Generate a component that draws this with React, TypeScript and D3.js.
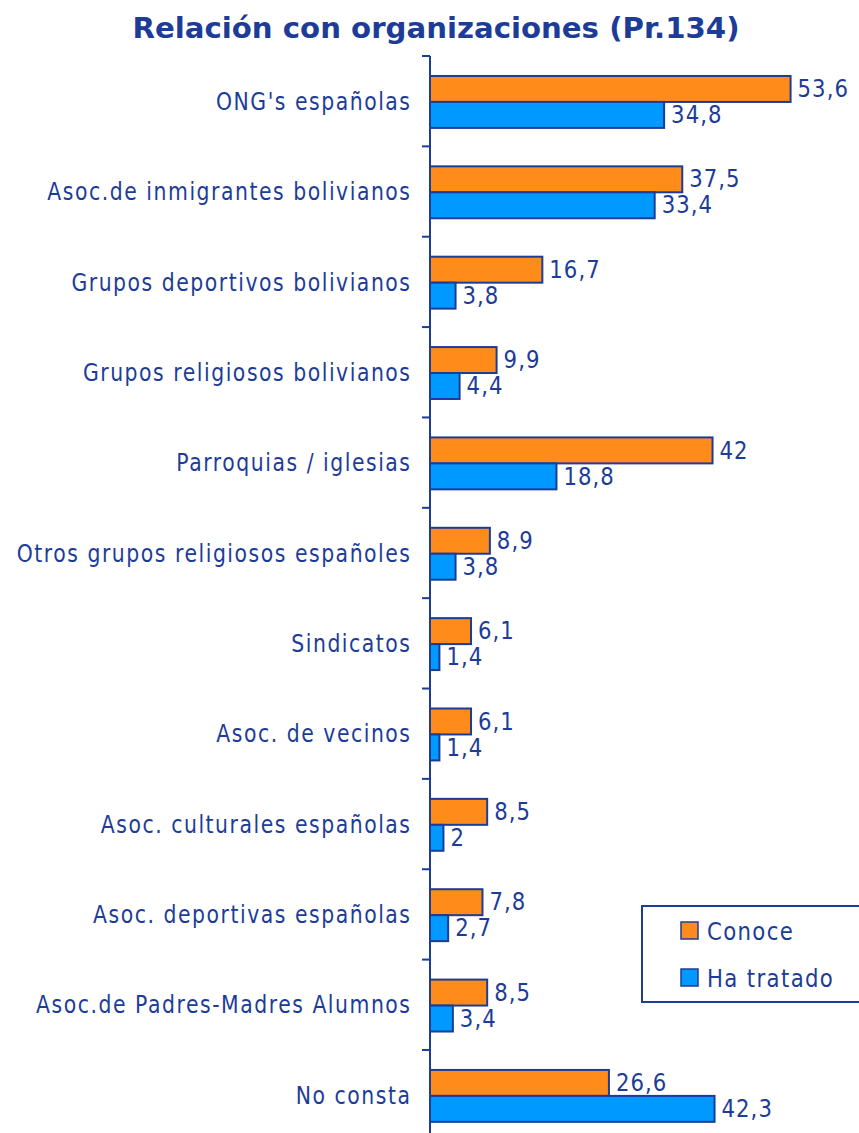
import React from "react";
import * as d3 from "d3";

const categories = [
  "ONG's españolas",
  "Asoc.de inmigrantes bolivianos",
  "Grupos deportivos bolivianos",
  "Grupos religiosos bolivianos",
  "Parroquias / iglesias",
  "Otros grupos religiosos españoles",
  "Sindicatos",
  "Asoc. de vecinos",
  "Asoc. culturales españolas",
  "Asoc. deportivas españolas",
  "Asoc.de Padres-Madres Alumnos",
  "No consta",
];
const conoce = [53.6, 37.5, 16.7, 9.9, 42, 8.9, 6.1, 6.1, 8.5, 7.8, 8.5, 26.6];
const haTratado = [34.8, 33.4, 3.8, 4.4, 18.8, 3.8, 1.4, 1.4, 2, 2.7, 3.4, 42.3];
const seriesNames = ["Conoce", "Ha tratado"];
const seriesColors = ["#FF8C1A", "#0099FF"];
const title = "Relación con organizaciones (Pr.134)";

const W = 859;
const H = 1133;
const TEXT = "#1C3C98";
const FONT = "'DejaVu Sans', Verdana, sans-serif";
const SX = 0.85;
const LS = 1.8;

export default function App() {
  const axisX = 430;
  const y = d3.scaleBand<string>().domain(categories).range([56, 56 + 12 * 90.36]).paddingInner(0).paddingOuter(0);
  const inner = d3.scaleBand<string>().domain(seriesNames).range([0, y.bandwidth()]).paddingInner(0).paddingOuter(0.74).align(0.52);
  const x = d3.scaleLinear().domain([0, 60]).range([axisX, axisX + 60 * 6.727]);
  const fmt = (v: number) => String(v).replace(".", ",");
  const series = [conoce, haTratado];
  const tickYs = categories.map((c) => y(c)!).concat([y(categories[categories.length - 1])! + y.bandwidth()]);

  return (
    <svg width={W} height={H} style={{ position: "absolute", left: 0, top: 0, background: "#fff" }} fontFamily={FONT}>
      <text x={436} y={38} textAnchor="middle" fill={TEXT} fontWeight="bold" fontSize={29} textLength={607} lengthAdjust="spacingAndGlyphs">
        {title}
      </text>
      {categories.map((c, i) => (
        <g key={c}>
          <text
            transform={`translate(${410 + LS * SX},${y(c)! + y.bandwidth() / 2}) scale(${SX},1)`}
            textAnchor="end"
            dominantBaseline="central"
            fill={TEXT}
            fontSize={24}
            letterSpacing={LS}
          >
            {c}
          </text>
          {series.map((s, k) => {
            const by = y(c)! + inner(seriesNames[k])!;
            const bh = inner.bandwidth();
            return (
              <g key={k}>
                <rect x={x(0)} y={by} width={x(s[i]) - x(0)} height={bh} fill={seriesColors[k]} stroke={TEXT} strokeWidth={2} />
                <text
                  transform={`translate(${x(s[i]) + 7},${by + bh / 2 - 1}) scale(${SX},1)`}
                  dominantBaseline="central"
                  fill={TEXT}
                  fontSize={25}
                  letterSpacing={1.2}
                >
                  {fmt(s[i])}
                </text>
              </g>
            );
          })}
        </g>
      ))}
      <line x1={axisX} x2={axisX} y1={56} y2={H + 10} stroke={TEXT} strokeWidth={2} />
      {tickYs.map((ty, i) => (
        <line key={i} x1={axisX - 8} x2={axisX} y1={ty} y2={ty} stroke={TEXT} strokeWidth={2} />
      ))}
      <rect x={642} y={906} width={240} height={96} fill="#fff" stroke={TEXT} strokeWidth={2} />
      {seriesNames.map((n, k) => (
        <g key={n}>
          <rect x={681} y={922 + k * 47} width={17} height={17} fill={seriesColors[k]} stroke={TEXT} strokeWidth={1.5} />
          <text
            transform={`translate(707,${931 + k * 47}) scale(${SX},1)`}
            dominantBaseline="central"
            fill={TEXT}
            fontSize={25}
            letterSpacing={1.6}
          >
            {n}
          </text>
        </g>
      ))}
    </svg>
  );
}
